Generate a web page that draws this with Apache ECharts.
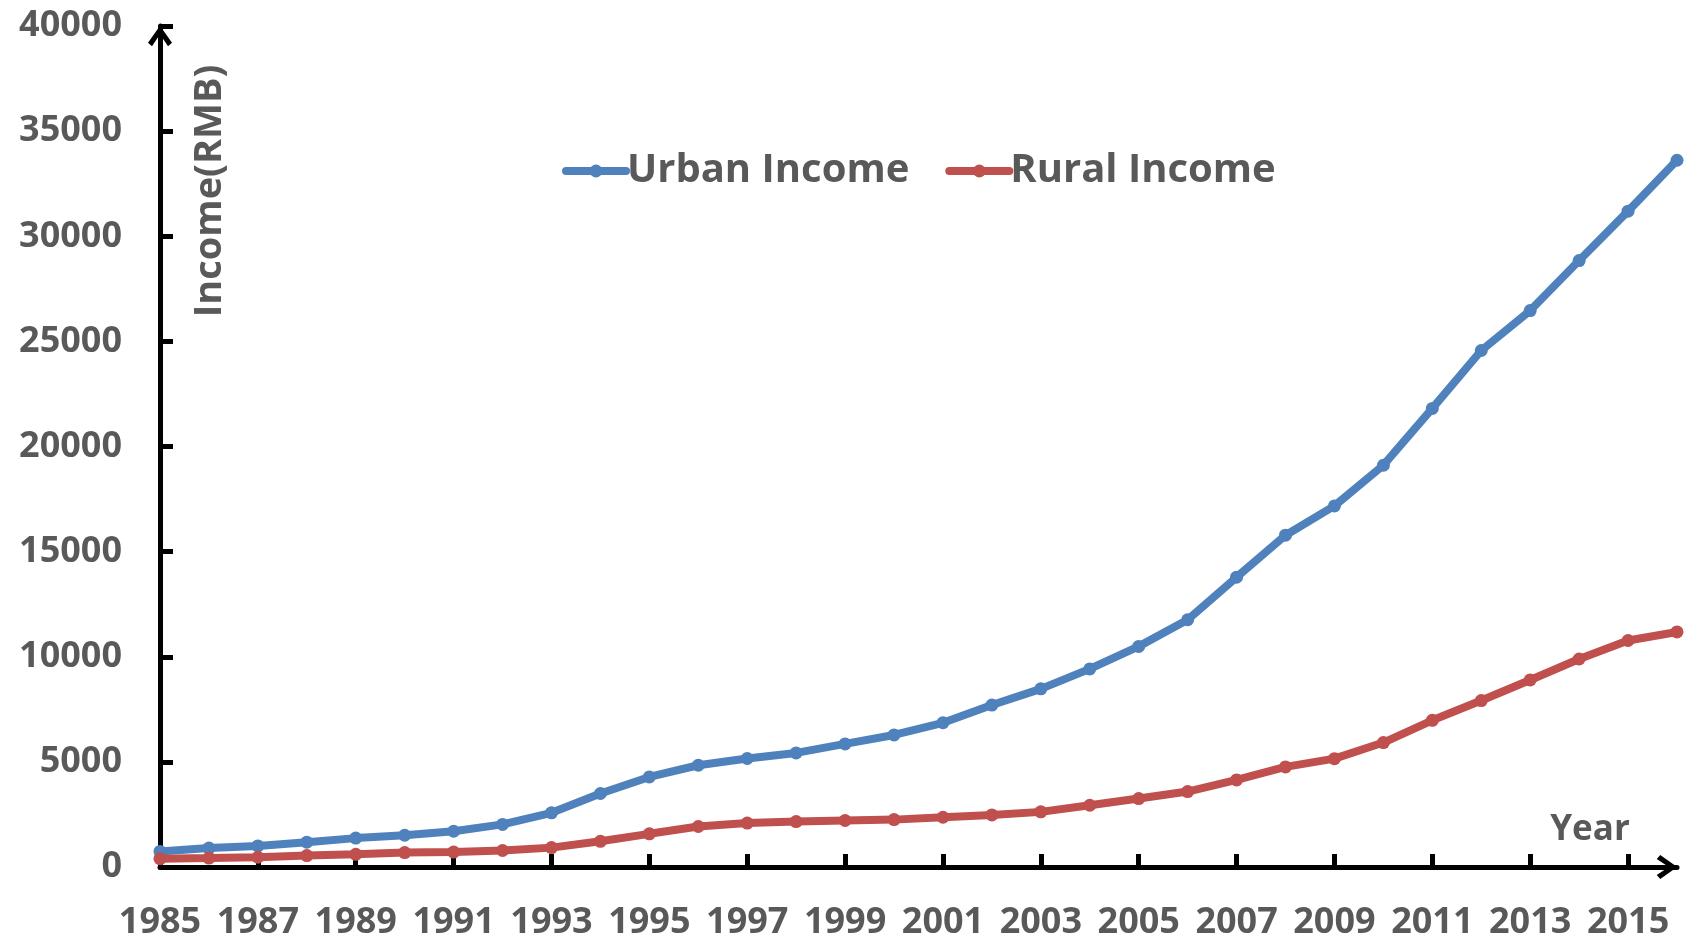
<!DOCTYPE html>
<html>
<head>
<meta charset="utf-8">
<script src="https://cdn.jsdelivr.net/npm/echarts@6/dist/echarts.min.js"></script>
<style>
html,body{margin:0;padding:0;background:#fff;}
#chart{width:1687px;height:941px;}
</style>
</head>
<body>
<div id="chart"></div>
<script>
const years = ['1985','1986','1987','1988','1989','1990','1991','1992','1993','1994','1995','1996','1997','1998','1999','2000','2001','2002','2003','2004','2005','2006','2007','2008','2009','2010','2011','2012','2013','2014','2015','2016'];
const urbanIncome = [739.1, 900.9, 1002.1, 1180.2, 1373.9, 1510.2, 1700.6, 2026.6, 2577.4, 3496.2, 4283.0, 4838.9, 5160.3, 5425.1, 5854.0, 6280.0, 6859.6, 7702.8, 8472.2, 9421.6, 10493.0, 11759.5, 13785.8, 15780.8, 17174.7, 19109.4, 21809.8, 24564.7, 26467.0, 28843.9, 31194.8, 33616.0];
const ruralIncome = [397.6, 423.8, 462.6, 544.9, 601.5, 686.3, 708.6, 784.0, 921.6, 1221.0, 1577.7, 1926.1, 2090.1, 2162.0, 2210.3, 2253.4, 2366.4, 2475.6, 2622.2, 2936.4, 3254.9, 3587.0, 4140.4, 4760.6, 5153.2, 5919.0, 6977.3, 7916.6, 8895.9, 9892.0, 10772.0, 11180.0];
const seriesNames = ['Urban Income', 'Rural Income'];
const yAxisTitle = 'Income(RMB)';
const xAxisTitle = 'Year';

const FONT = '"Open Sans", "Noto Sans", sans-serif';
const TXT = '#595959';
const arrowPath = 'path://M12,0 L24,17 L20,20.5 L12,8.5 L4,20.5 L0,17 Z';

const chart = echarts.init(document.getElementById('chart'), null, {renderer: 'canvas'});
chart.setOption({
  animation: false,
  backgroundColor: '#ffffff',
  grid: {left: 160, top: 26, right: 10, bottom: 74, containLabel: false},
  legend: {
    left: 557, top: 141,
    itemWidth: 60, itemHeight: 16, itemGap: 36,
    lineStyle: {width: 8, cap: 'round'},
    textStyle: {fontFamily: FONT, fontWeight: 'bold', fontSize: 40, color: TXT, lineHeight: 50, padding: [0, 0, 0, -4]},
    data: seriesNames
  },
  xAxis: {
    type: 'category',
    data: years,
    boundaryGap: false,
    axisLine: {lineStyle: {color: '#000', width: 5}, symbol: ['none', arrowPath], symbolSize: [24, 21], symbolOffset: [0, -10]},
    axisTick: {show: true, inside: true, length: 13, interval: 1, lineStyle: {color: '#000', width: 5}},
    axisLabel: {interval: 1, margin: 38, fontFamily: FONT, fontWeight: 'bold', fontSize: 36, color: TXT},
    splitLine: {show: false}
  },
  yAxis: {
    type: 'value',
    min: 0, max: 40000, interval: 5000,
    axisLine: {show: true, lineStyle: {color: '#000', width: 5}, symbol: ['none', arrowPath], symbolSize: [24, 21], symbolOffset: [0, -10]},
    axisTick: {show: true, inside: true, length: 13, lineStyle: {color: '#000', width: 5}},
    axisLabel: {margin: 38, fontFamily: FONT, fontWeight: 'bold', fontSize: 36, color: TXT, formatter: function (v) { return String(v); }},
    splitLine: {show: false}
  },
  graphic: [
    {type: 'text', x: 210, y: 191, rotation: Math.PI / 2,
     style: {text: yAxisTitle, fontFamily: FONT, fontWeight: 'bold', fontSize: 38, fill: TXT, align: 'center', verticalAlign: 'middle'}},
    {type: 'text', x: 1590, y: 830,
     style: {text: xAxisTitle, fontFamily: FONT, fontWeight: 'bold', fontSize: 35, fill: TXT, align: 'center', verticalAlign: 'middle'}}
  ],
  series: [
    {name: seriesNames[0], type: 'line', data: urbanIncome, symbol: 'circle', symbolSize: 13,
     lineStyle: {color: '#4F81BD', width: 8}, itemStyle: {color: '#4F81BD'}, clip: false},
    {name: seriesNames[1], type: 'line', data: ruralIncome, symbol: 'circle', symbolSize: 13,
     lineStyle: {color: '#C0504D', width: 8}, itemStyle: {color: '#C0504D'}, clip: false}
  ]
});
</script>
</body>
</html>
